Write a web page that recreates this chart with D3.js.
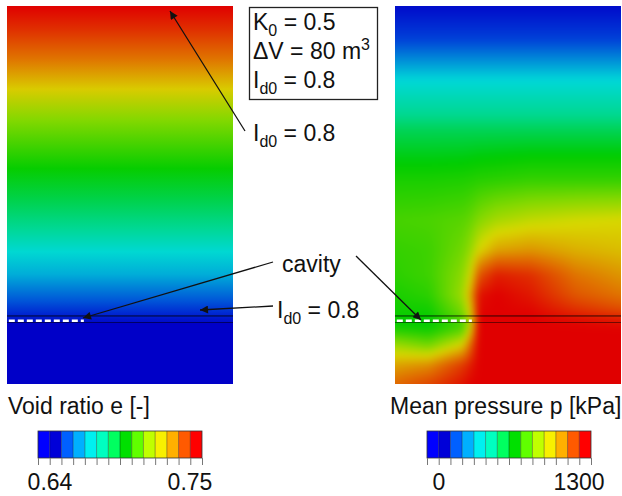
<!DOCTYPE html>
<html>
<head>
<meta charset="utf-8">
<script src="https://cdn.jsdelivr.net/npm/d3@7"></script>
<style>
  html, body { margin: 0; padding: 0; background: #fff; }
  svg { display: block; font-family: "Liberation Sans", Arial, sans-serif; }
</style>
</head>
<body>
<svg id="chart" width="622" height="496"></svg>
<script>
// Void ratio profile, left panel (depth in % of panel height)
const voidDepth = [0, 6.3, 14, 22, 30, 43, 51, 59, 65, 71, 78, 82, 83.6, 83.7, 100];
const voidValue = [0.750, 0.743, 0.733, 0.722, 0.712, 0.700, 0.695, 0.690, 0.683, 0.675, 0.660, 0.648, 0.643, 0.640, 0.640];

// Mean pressure grid, right panel (kPa); columns = presX, rows = presDepth
const presX = [0, 15, 30, 34, 37, 45, 60, 80, 100];
const presDepth = [0, 9, 19.6, 32.8, 46, 56.6, 64.6, 71.2, 76.5, 80.4, 82, 83.6, 85.7, 89.7, 95, 100];
const presValue = [
  [  30,   30,   30,   30,   30,   30,   30,   30,   30],
  [ 200,  200,  200,  200,  200,  200,  200,  200,  200],
  [ 500,  500,  500,  500,  500,  500,  500,  500,  500],
  [ 640,  640,  640,  640,  640,  640,  640,  640,  640],
  [ 730,  730,  735,  740,  745,  750,  760,  760,  760],
  [ 780,  785,  800,  820,  850,  890,  920,  940,  950],
  [ 760,  770,  830,  880,  950, 1030, 1050, 1010,  990],
  [ 750,  770,  860,  960, 1150, 1250, 1220, 1100, 1050],
  [ 730,  750,  880, 1050, 1270, 1300, 1260, 1150, 1100],
  [ 720,  720,  840, 1000, 1290, 1300, 1290, 1220, 1170],
  [ 715,  710,  820,  980, 1300, 1300, 1300, 1260, 1230],
  [ 700,  700,  780,  950, 1300, 1300, 1300, 1290, 1270],
  [ 740,  720,  800, 1000, 1300, 1300, 1300, 1300, 1300],
  [ 880,  830,  960, 1150, 1300, 1300, 1300, 1300, 1300],
  [1030, 1060, 1200, 1260, 1300, 1300, 1300, 1300, 1300],
  [1120, 1180, 1270, 1300, 1300, 1300, 1300, 1300, 1300]
];

// colour bar ranges and labels
const voidRange = [0.64, 0.75];
const presRange = [0, 1300];
const voidLabels = ["0.64", "0.75"];
const presLabels = ["0", "1300"];
const bandColors = ["#0000ff", "#0000d8", "#0060ff", "#00b0ff", "#00f0f0", "#00ffc0", "#00ff60",
                    "#00e000", "#60ff00", "#c0ff00", "#f8f000", "#ffb000", "#ff5a00", "#ff0000"];

// shaded ramp used in the contour panels
const rampT = [0, 0.15, 0.31, 0.385, 0.46, 0.54, 0.65, 0.73, 0.85, 1.0];
const rampColors = ["#0000c8", "#0040d8", "#00a8d8", "#00d8d8", "#00d890", "#00cc00",
                    "#80d800", "#d8d800", "#e07000", "#e00000"];

const cavityDepth = 83.3, cavityWidth = 34, layerTop = 82, layerBot = 83.6;

const svg = d3.select("#chart");
const defs = svg.append("defs");

const leftX = d3.scaleLinear().domain([0, 100]).range([7, 233]);
const rightX = d3.scaleLinear().domain([0, 100]).range([395, 621]);
const depthY = d3.scaleLinear().domain([0, 100]).range([6, 384]);

const ramp = d3.scaleLinear().domain(rampT).range(rampColors).clamp(true);
const eNorm = d3.scaleLinear().domain(voidRange).range([0, 1]);
const pNorm = d3.scaleLinear().domain(presRange).range([0, 1]);

// --- left panel: void ratio (vertical profile) ---
const grad = defs.append("linearGradient")
  .attr("id", "voidGrad")
  .attr("x1", 0).attr("y1", 0).attr("x2", 0).attr("y2", 1);
grad.selectAll("stop")
  .data(voidDepth)
  .join("stop")
  .attr("offset", d => d / 100)
  .attr("stop-color", (d, i) => ramp(eNorm(voidValue[i])));

svg.append("rect")
  .attr("x", leftX(0)).attr("y", depthY(0))
  .attr("width", leftX(100) - leftX(0))
  .attr("height", depthY(100) - depthY(0))
  .attr("fill", "url(#voidGrad)");

// --- right panel: mean pressure (bilinear over grid, then softened) ---
const x0 = rightX(0), y0 = depthY(0);
const pw = Math.round(rightX(100) - x0), ph = Math.round(depthY(100) - y0);
const pad = 12;
const src = document.createElement("canvas");
src.width = pw + 2 * pad; src.height = ph + 2 * pad;
const sctx = src.getContext("2d");
const img = sctx.createImageData(src.width, src.height);
const colIdx = d3.scaleLinear().domain(presX).range(d3.range(presX.length)).clamp(true);
const rowIdx = d3.scaleLinear().domain(presDepth).range(d3.range(presDepth.length)).clamp(true);

for (let j = 0; j < src.height; j++) {
  const fy = rowIdx(depthY.invert(y0 + j - pad + 0.5));
  const r0 = Math.min(Math.floor(fy), presDepth.length - 2), ty = fy - r0;
  for (let i = 0; i < src.width; i++) {
    const fx = colIdx(rightX.invert(x0 + i - pad + 0.5));
    const c0 = Math.min(Math.floor(fx), presX.length - 2), tx = fx - c0;
    const a = presValue[r0][c0], b = presValue[r0][c0 + 1];
    const c = presValue[r0 + 1][c0], d = presValue[r0 + 1][c0 + 1];
    const p = (a * (1 - tx) + b * tx) * (1 - ty) + (c * (1 - tx) + d * tx) * ty;
    const col = d3.rgb(ramp(pNorm(p)));
    const k = (j * src.width + i) * 4;
    img.data[k] = col.r; img.data[k + 1] = col.g; img.data[k + 2] = col.b; img.data[k + 3] = 255;
  }
}
sctx.putImageData(img, 0, 0);

const out = document.createElement("canvas");
out.width = pw; out.height = ph;
const octx = out.getContext("2d");
octx.filter = "blur(3.5px)";
octx.drawImage(src, -pad, -pad);

svg.append("image")
  .attr("x", x0).attr("y", y0)
  .attr("width", pw).attr("height", ph)
  .attr("preserveAspectRatio", "none")
  .attr("href", out.toDataURL());

// layer lines + cavity
[leftX, rightX].forEach(sx => {
  svg.append("line")
    .attr("x1", sx(0)).attr("x2", sx(100))
    .attr("y1", depthY(layerTop)).attr("y2", depthY(layerTop))
    .attr("stroke", "#000").attr("stroke-opacity", 0.8).attr("stroke-width", 1);
  svg.append("line")
    .attr("x1", sx(0)).attr("x2", sx(100))
    .attr("y1", depthY(layerBot) + 0.5).attr("y2", depthY(layerBot) + 0.5)
    .attr("stroke", "#000").attr("stroke-opacity", 0.5).attr("stroke-width", 1);
  svg.append("line")
    .attr("x1", sx(0.8)).attr("x2", sx(cavityWidth))
    .attr("y1", depthY(cavityDepth)).attr("y2", depthY(cavityDepth))
    .attr("stroke", "#fff").attr("stroke-width", 2.5)
    .attr("stroke-dasharray", "6,3");
});

// --- annotations ---
defs.append("marker")
  .attr("id", "arrow")
  .attr("viewBox", "0 0 10 10")
  .attr("refX", 10).attr("refY", 5)
  .attr("markerWidth", 11).attr("markerHeight", 8)
  .attr("markerUnits", "userSpaceOnUse")
  .attr("orient", "auto")
  .append("path")
  .attr("d", "M0,0L10,5L0,10z")
  .attr("fill", "#111");

const arrows = [
  [245, 131, 170, 11],
  [273, 262, 83, 318],
  [356, 256, 421, 320],
  [273, 306, 200, 310]
];
svg.append("g").selectAll("line")
  .data(arrows)
  .join("line")
  .attr("x1", d => d[0]).attr("y1", d => d[1])
  .attr("x2", d => d[2]).attr("y2", d => d[3])
  .attr("stroke", "#111").attr("stroke-width", 1.3)
  .attr("marker-end", "url(#arrow)");

const fs = 23, sub = 16;

function idLabel(x, y) {
  const t = svg.append("text").attr("x", x).attr("y", y).attr("font-size", fs).attr("fill", "#111");
  t.append("tspan").text("I");
  t.append("tspan").attr("font-size", sub).attr("dy", 6).text("d0");
  t.append("tspan").attr("dy", -6).text(" = 0.8");
}

// info box
svg.append("rect")
  .attr("x", 249.5).attr("y", 7.5).attr("width", 128).attr("height", 92)
  .attr("fill", "#fff").attr("stroke", "#222").attr("stroke-width", 1.3);

const k0 = svg.append("text").attr("x", 253).attr("y", 30).attr("font-size", fs).attr("fill", "#111");
k0.append("tspan").text("K");
k0.append("tspan").attr("font-size", sub).attr("dy", 6).text("0");
k0.append("tspan").attr("dy", -6).text(" = 0.5");

const dv = svg.append("text").attr("x", 253).attr("y", 59).attr("font-size", fs).attr("fill", "#111");
dv.append("tspan").text("\u0394V = 80 m");
dv.append("tspan").attr("font-size", sub).attr("dy", -9).text("3");

idLabel(253, 88);
idLabel(253, 141);
idLabel(277, 318);

svg.append("text")
  .attr("x", 282).attr("y", 272)
  .attr("font-size", fs).attr("fill", "#111")
  .text("cavity");

// --- colour bars ---
function colorBar(range, x, labels, title, titleX) {
  const n = bandColors.length;
  const bounds = d3.range(n + 1).map(i => range[0] + i * (range[1] - range[0]) / n);
  const g = svg.append("g");

  g.append("text")
    .attr("x", titleX).attr("y", 414)
    .attr("font-size", fs).attr("fill", "#111")
    .text(title);

  g.selectAll("rect.band")
    .data(bandColors)
    .join("rect")
    .attr("class", "band")
    .attr("x", (d, i) => x(bounds[i]))
    .attr("y", 431)
    .attr("width", (d, i) => x(bounds[i + 1]) - x(bounds[i]))
    .attr("height", 27)
    .attr("fill", d => d);

  g.selectAll("line.sep")
    .data(bounds.slice(1, -1))
    .join("line")
    .attr("class", "sep")
    .attr("x1", d => x(d)).attr("x2", d => x(d))
    .attr("y1", 431).attr("y2", 458)
    .attr("stroke", "#000").attr("stroke-opacity", 0.45).attr("stroke-width", 0.8);

  g.append("rect")
    .attr("x", x(range[0])).attr("y", 431)
    .attr("width", x(range[1]) - x(range[0])).attr("height", 27)
    .attr("fill", "none").attr("stroke", "#333").attr("stroke-width", 0.8);

  const ax = g.append("g")
    .attr("transform", "translate(0,458)")
    .call(d3.axisBottom(x).tickValues(bounds).tickSize(7).tickFormat(""));
  ax.select(".domain").remove();
  ax.selectAll(".tick line").attr("stroke", "#777").attr("stroke-width", 1);

  g.append("text")
    .attr("x", x(range[0]) + 12).attr("y", 490)
    .attr("text-anchor", "middle").attr("font-size", fs).attr("fill", "#111")
    .text(labels[0]);
  g.append("text")
    .attr("x", x(range[1]) - 12).attr("y", 490)
    .attr("text-anchor", "middle").attr("font-size", fs).attr("fill", "#111")
    .text(labels[1]);
}

colorBar(voidRange, d3.scaleLinear().domain(voidRange).range([38, 202]), voidLabels, "Void ratio e [-]", 8);
colorBar(presRange, d3.scaleLinear().domain(presRange).range([427, 591]), presLabels, "Mean pressure p [kPa]", 390);
</script>
</body>
</html>
